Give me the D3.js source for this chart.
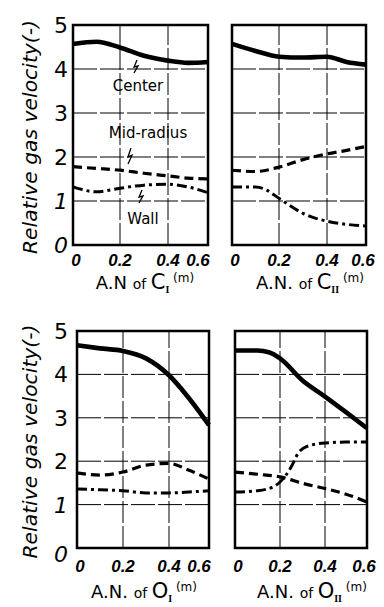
<!DOCTYPE html>
<meta charset="utf-8">
<style>
body { margin: 0; background: #fff; }
svg { display: block; }
text { fill: #000; }
</style>
<body>
<svg width="384" height="607" font-family="DejaVu Sans, sans-serif"></svg>
<script src="https://cdnjs.cloudflare.com/ajax/libs/d3/7.8.5/d3.min.js"></script>
<script>
// tick values / labels
var xTicks = [0, 0.2, 0.4, 0.6];
var xTickLabels = ["0", "0.2", "0.4", "0.6"];
var yTicks = [0, 1, 2, 3, 4, 5];
var xGrid = [0.2, 0.4];
var yGrid = [1, 2, 3, 4];

// shared x positions (A.N., m)
var x7 = [0, 0.1, 0.2, 0.3, 0.4, 0.5, 0.6];

// C_I
var cICenter = [4.57, 4.62, 4.49, 4.30, 4.19, 4.14, 4.16];
var cIMid    = [1.78, 1.74, 1.70, 1.63, 1.57, 1.52, 1.50];
var cIWall   = [1.32, 1.21, 1.29, 1.36, 1.38, 1.32, 1.19];

// C_II
var cIICenter = [4.57, 4.41, 4.28, 4.26, 4.28, 4.16, 4.10];
var cIIMid    = [1.70, 1.67, 1.77, 1.94, 2.07, 2.15, 2.24];
var cIIWallX  = [0, 0.1, 0.15, 0.2, 0.3, 0.4, 0.5, 0.6];
var cIIWall   = [1.32, 1.32, 1.24, 1.06, 0.72, 0.54, 0.47, 0.43];

// O_I
var oICenter = [4.67, 4.60, 4.54, 4.37, 3.98, 3.45, 2.83];
var oIMid    = [1.73, 1.68, 1.75, 1.91, 1.95, 1.79, 1.59];
var oIWall   = [1.36, 1.34, 1.32, 1.27, 1.27, 1.29, 1.32];

// O_II
var oIICenterX = [0, 0.1, 0.15, 0.2, 0.3, 0.4, 0.5, 0.6];
var oIICenter  = [4.55, 4.55, 4.51, 4.37, 3.86, 3.49, 3.13, 2.76];
var oIIMid     = [1.75, 1.70, 1.64, 1.49, 1.37, 1.24, 1.06];
var oIIWallX   = [0, 0.1, 0.17, 0.2, 0.25, 0.28, 0.32, 0.4, 0.5, 0.6];
var oIIWall    = [1.29, 1.32, 1.41, 1.52, 1.87, 2.18, 2.34, 2.42, 2.44, 2.44];

var styles = {
  center: { w: 4.6, dash: null },
  mid:    { w: 3.2, dash: "9,5" },
  wall:   { w: 3,   dash: "10,4,3,4" }
};

function pts(xs, ys) { return ys.map(function(v, i) { return [xs[i], v]; }); }

var panels = [
  { letter: "C", sub: "I", an: "A.N", left: true, xr: [73, 120, 168, 208], yr: [245, 25],
    tickY: 266, titleY: 289, titleX: 145,
    lines: [["center", pts(x7, cICenter)], ["mid", pts(x7, cIMid)], ["wall", pts(x7, cIWall)]] },
  { letter: "C", sub: "II", an: "A.N.", left: false, xr: [232, 279, 327, 366], yr: [245, 25],
    tickY: 266, titleY: 289, titleX: 310,
    lines: [["center", pts(x7, cIICenter)], ["mid", pts(x7, cIIMid)], ["wall", pts(cIIWallX, cIIWall)]] },
  { letter: "O", sub: "I", an: "A.N.", left: true, xr: [77, 123, 169, 209], yr: [548, 331],
    tickY: 572, titleY: 598, titleX: 144,
    lines: [["center", pts(x7, oICenter)], ["mid", pts(x7, oIMid)], ["wall", pts(x7, oIWall)]] },
  { letter: "O", sub: "II", an: "A.N.", left: false, xr: [235, 280, 325, 367], yr: [548, 331],
    tickY: 572, titleY: 598, titleX: 312,
    lines: [["center", pts(oIICenterX, oIICenter)], ["mid", pts(x7, oIIMid)], ["wall", pts(oIIWallX, oIIWall)]] }
];

var svg = d3.select("svg");

panels.forEach(function(p) {
  var x = d3.scaleLinear().domain(xTicks).range(p.xr);
  var y = d3.scaleLinear().domain([0, 5]).range(p.yr);
  var g = svg.append("g");

  // grid
  g.selectAll(".gx").data(xGrid).enter().append("line")
    .attr("x1", function(d) { return x(d); }).attr("x2", function(d) { return x(d); })
    .attr("y1", y(0)).attr("y2", y(5))
    .attr("stroke", "#000").attr("stroke-width", 1).attr("stroke-dasharray", "22,3");
  g.selectAll(".gy").data(yGrid).enter().append("line")
    .attr("x1", x(0)).attr("x2", x(0.6))
    .attr("y1", function(d) { return y(d); }).attr("y2", function(d) { return y(d); })
    .attr("stroke", "#000").attr("stroke-width", 1).attr("stroke-dasharray", "24,3");

  // frame
  g.append("rect")
    .attr("x", x(0)).attr("y", y(5))
    .attr("width", x(0.6) - x(0)).attr("height", y(0) - y(5))
    .attr("fill", "none").attr("stroke", "#000").attr("stroke-width", 2.5);

  // curves
  var line = d3.line()
    .x(function(d) { return x(d[0]); })
    .y(function(d) { return y(d[1]); })
    .curve(d3.curveMonotoneX);
  p.lines.forEach(function(l) {
    var s = styles[l[0]];
    g.append("path").attr("d", line(l[1]))
      .attr("fill", "none").attr("stroke", "#000")
      .attr("stroke-width", s.w)
      .attr("stroke-dasharray", s.dash)
      .attr("stroke-linejoin", "round");
  });

  // x tick labels
  g.selectAll(".xt").data(xTicks).enter().append("text")
    .attr("x", function(d, i) {
      if (i === 0) return x(d) + 3;
      if (i === 3) return x(d) - (p.left ? 10 : 3);
      return x(d);
    })
    .attr("y", p.tickY)
    .attr("text-anchor", "middle")
    .style("font-family", "'Liberation Sans', sans-serif")
    .attr("font-size", 17).attr("font-weight", "bold").attr("font-style", "italic")
    .text(function(d, i) { return xTickLabels[i]; });

  // y tick labels
  if (p.left) {
    g.selectAll(".yt").data(yTicks).enter().append("text")
      .attr("x", 68)
      .attr("y", function(d) { return y(d) + (d === 0 && p.yr[0] > 400 ? 6 : 0); })
      .attr("dy", "0.36em")
      .attr("text-anchor", "end")
      .attr("font-size", 22)
      .attr("font-style", function(d) { return d === 0 || d === 1 ? "italic" : "normal"; })
      .text(function(d) { return d; });

    var cy = (y(0) + y(5)) / 2 + 2;
    svg.append("text")
      .attr("transform", "translate(37," + cy + ") rotate(-90)")
      .attr("text-anchor", "middle")
      .attr("font-size", 20).attr("font-style", "italic")
      .attr("textLength", 234).attr("lengthAdjust", "spacingAndGlyphs")
      .text("Relative gas velocity(-)");
  }

  // x title
  var t = svg.append("text")
    .attr("x", p.titleX).attr("y", p.titleY)
    .attr("text-anchor", "middle");
  t.append("tspan").attr("font-size", 18).text(p.an + " ");
  t.append("tspan").attr("font-size", 14).text("of ");
  t.append("tspan").attr("font-size", 21).text(p.letter);
  t.append("tspan").attr("font-size", 10).attr("font-weight", "bold")
    .style("font-family", "'Liberation Serif', serif").attr("dy", 4).text(p.sub);
  t.append("tspan").attr("font-size", 12).attr("dy", -11).text(" (m)");
});

// annotations on the first panel
var ann = [
  { label: "Center",     tx: 138, ty: 91,  lx: 137, ly: 60 },
  { label: "Mid-radius", tx: 148, ty: 138, lx: 131, ly: 148 },
  { label: "Wall",       tx: 143, ty: 224, lx: 142, ly: 190 }
];
var bolt = d3.line();
ann.forEach(function(a) {
  svg.append("text").attr("x", a.tx).attr("y", a.ty)
    .attr("text-anchor", "middle").attr("font-size", 15).text(a.label);
  var h = a.label === "Mid-radius" ? 16 : 13;
  svg.append("path")
    .attr("d", bolt([[a.lx, a.ly], [a.lx - 3, a.ly + h * 0.55], [a.lx + 1, a.ly + h * 0.45], [a.lx - 3, a.ly + h]]))
    .attr("fill", "none").attr("stroke", "#000").attr("stroke-width", 1.3);
});
</script>
</body>
